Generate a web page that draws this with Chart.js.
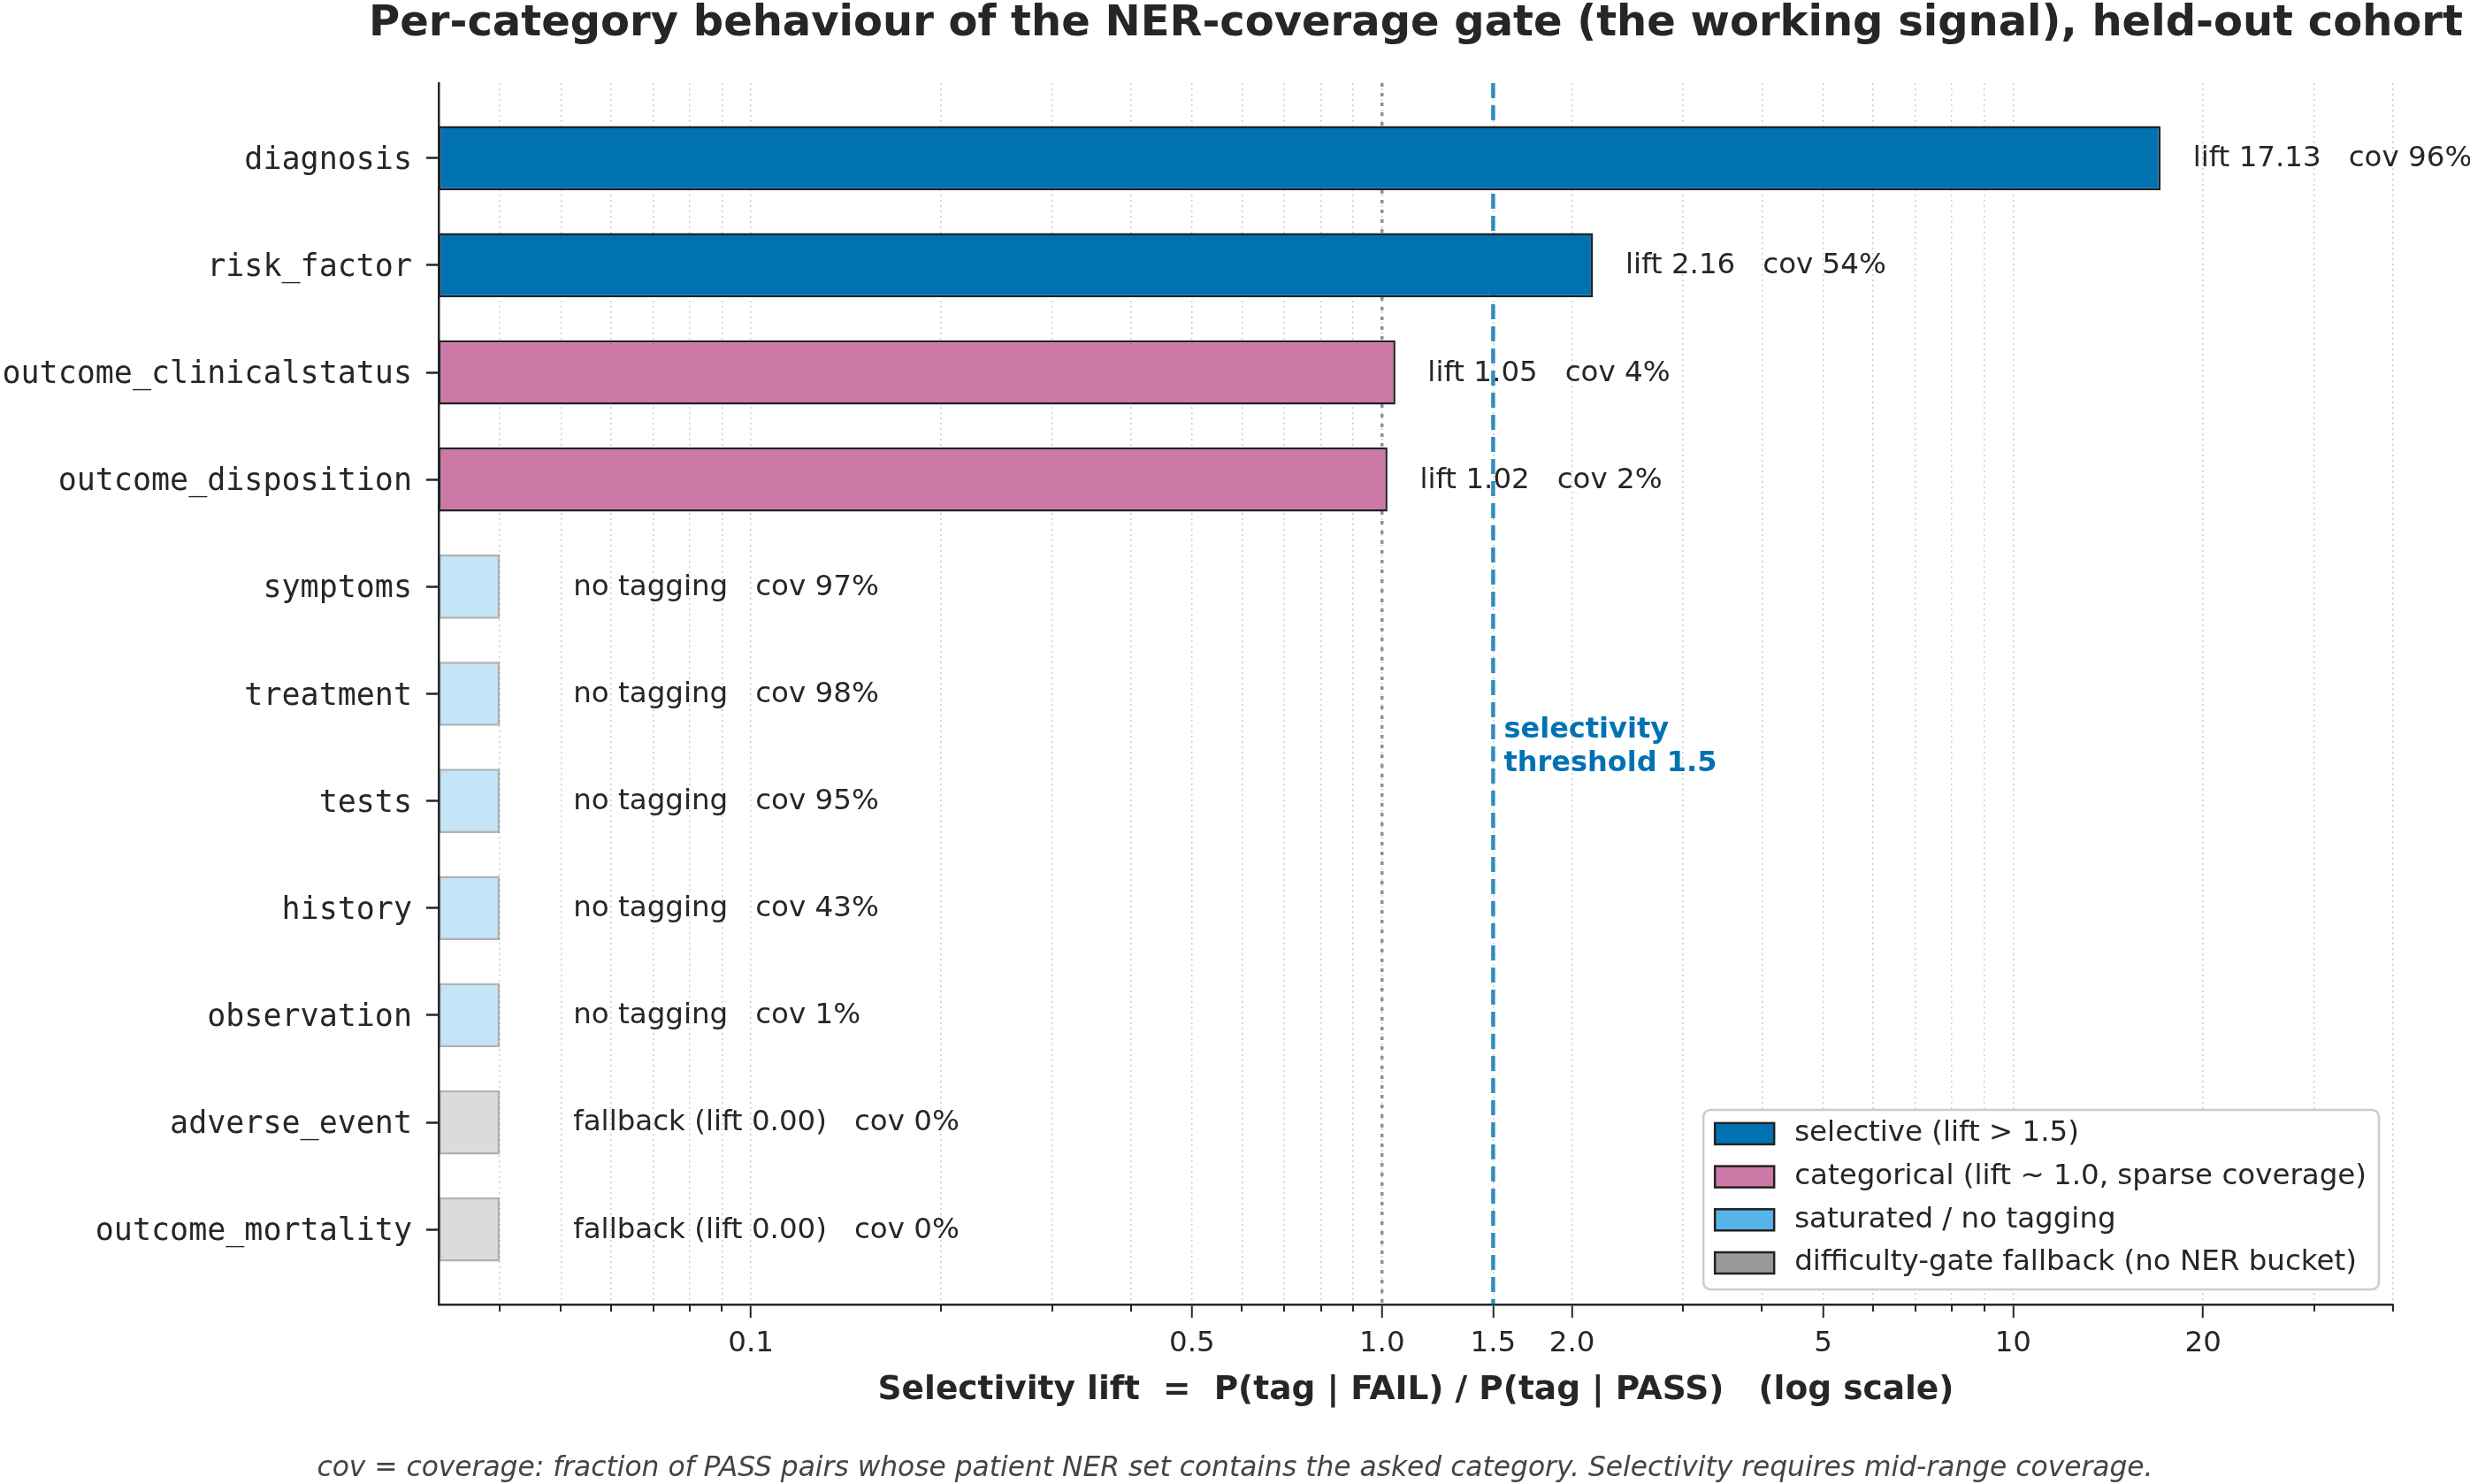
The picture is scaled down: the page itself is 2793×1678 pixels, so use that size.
<!DOCTYPE html>
<html>
<head>
<meta charset="utf-8">
<script src="https://cdn.jsdelivr.net/npm/chart.js@4.4.1/dist/chart.umd.min.js"></script>
<style>
  html, body { margin: 0; padding: 0; background: #fff; }
  #wrap { width: 2793px; height: 1678px; position: relative; }
</style>
</head>
<body>
<div id="wrap"><canvas id="myChart"></canvas></div>
<script>
// ---- data ----
const categories = ['diagnosis', 'risk_factor', 'outcome_clinicalstatus', 'outcome_disposition',
  'symptoms', 'treatment', 'tests', 'history', 'observation', 'adverse_event', 'outcome_mortality'];
const lifts = [17.13, 2.16, 1.05, 1.02, null, null, null, null, null, 0.00, 0.00];
const coverage = [96, 54, 4, 2, 97, 98, 95, 43, 1, 0, 0];
const groups = ['selective', 'selective', 'categorical', 'categorical',
  'saturated', 'saturated', 'saturated', 'saturated', 'saturated', 'fallback', 'fallback'];
const stubWidth = 0.04;      // bar drawn for rows without a usable lift
const noteStub = 0.0523;     // where the text sits for those rows

const groupKeys = ['selective', 'categorical', 'saturated', 'fallback'];
const groupLabels = ['selective (lift > 1.5)', 'categorical (lift ~ 1.0, sparse coverage)',
  'saturated / no tagging', 'difficulty-gate fallback (no NER bucket)'];
const groupColors = ['#0072B2', '#CC79A7', '#56B4E9', '#999999'];
const groupAlpha = [1, 1, 0.35, 0.35];

const xTicks = [0.1, 0.5, 1.0, 1.5, 2.0, 5, 10, 20];
const xTickLabels = ['0.1', '0.5', '1.0', '1.5', '2.0', '5', '10', '20'];
const xMin = 0.032, xMax = 40;
const threshold = 1.5;
const thresholdLabelY = 5.5;

const titleText = 'Per-category behaviour of the NER-coverage gate (the working signal), held-out cohort';
const xTitle = 'Selectivity lift  =  P(tag | FAIL) / P(tag | PASS)   (log scale)';
const footnote = 'cov = coverage: fraction of PASS pairs whose patient NER set contains the asked category. Selectivity requires mid-range coverage.';

const INK = '#262626';

function rgba(hex, a) {
  const n = parseInt(hex.slice(1), 16);
  return `rgba(${n >> 16},${(n >> 8) & 255},${n & 255},${a})`;
}

// all tick positions on the log axis (minor ones get grid + short tick only)
const allTicks = [];
[0.01, 0.1, 1, 10].forEach(d => {
  for (let m = 1; m <= 9; m++) {
    const v = Number((m * d).toPrecision(6));
    if (v >= xMin && v <= xMax) allTicks.push(v);
  }
});
allTicks.push(1.5);
allTicks.sort((a, b) => a - b);

const datasets = groupKeys.map((g, k) => ({
  label: groupLabels[k],
  data: categories.map((c, i) => groups[i] === g ? {x: lifts[i] > 0 ? lifts[i] : stubWidth, y: i} : null)
    .filter(d => d),
  backgroundColor: rgba(groupColors[k], groupAlpha[k]),
  borderColor: rgba('#222222', groupAlpha[k]),
  borderWidth: 2.5,
  borderSkipped: false,
  grouped: false,
  barPercentage: 0.6,
  categoryPercentage: 1.0
}));

function noteFor(i) {
  if (groups[i] === 'saturated') return `no tagging   cov ${coverage[i]}%`;
  if (groups[i] === 'fallback') return `fallback (lift ${lifts[i].toFixed(2)})   cov ${coverage[i]}%`;
  return `lift ${lifts[i].toFixed(2)}   cov ${coverage[i]}%`;
}

const overlays = {
  id: 'overlays',
  beforeDatasetsDraw(chart) {
    const {ctx, chartArea: a, scales: {x}} = chart;
    ctx.save();
    // reference line at lift = 1.0
    let px = x.getPixelForValue(1.0);
    ctx.strokeStyle = 'rgba(128,128,128,0.85)';
    ctx.lineWidth = 3.5;
    ctx.setLineDash([4, 7]);
    ctx.beginPath(); ctx.moveTo(px, a.top); ctx.lineTo(px, a.bottom); ctx.stroke();
    // selectivity threshold
    px = x.getPixelForValue(threshold);
    ctx.strokeStyle = 'rgba(0,114,178,0.8)';
    ctx.lineWidth = 4.5;
    ctx.setLineDash([17, 8]);
    ctx.beginPath(); ctx.moveTo(px, a.top); ctx.lineTo(px, a.bottom); ctx.stroke();
    ctx.restore();
  },
  afterDatasetsDraw(chart) {
    const {ctx, chartArea: a, scales: {x, y}} = chart;
    ctx.save();
    // minor tick marks
    ctx.strokeStyle = INK;
    ctx.lineWidth = 2;
    allTicks.filter(v => !xTicks.includes(v)).forEach(v => {
      const px = Math.round(x.getPixelForValue(v));
      ctx.beginPath(); ctx.moveTo(px, a.bottom); ctx.lineTo(px, a.bottom + 8); ctx.stroke();
    });

    // threshold label
    ctx.fillStyle = '#0072B2';
    ctx.font = 'bold 32px "DejaVu Sans"';
    ctx.textAlign = 'left';
    ctx.textBaseline = 'middle';
    const tx = x.getPixelForValue(threshold) + 12;
    const ty = y.getPixelForValue(thresholdLabelY);
    ctx.fillText('selectivity', tx, ty - 19);
    ctx.fillText('threshold 1.5', tx, ty + 19);

    // per-bar notes
    ctx.fillStyle = INK;
    ctx.font = '32.5px "DejaVu Sans"';
    categories.forEach((c, i) => {
      const anchor = lifts[i] > 0 ? lifts[i] * 1.125 : noteStub;
      ctx.fillText(noteFor(i), x.getPixelForValue(anchor), y.getPixelForValue(i) + 1);
    });

    // legend (lower right, framed)
    const rowH = 48.7, padL = 13, padR = 14, padT = 27, padB = 30, sw = 67, sh = 24, gap = 23;
    const textW = Math.max(...groupLabels.map(t => ctx.measureText(t).width));
    const w = padL + sw + gap + textW + padR;
    const h = padT + padB + rowH * (groupLabels.length - 1);
    const x0 = a.right - 16 - w, y0 = a.bottom - 17 - h;
    ctx.beginPath();
    ctx.roundRect(x0, y0, w, h, 8);
    ctx.fillStyle = 'rgba(255,255,255,0.85)';
    ctx.fill();
    ctx.strokeStyle = '#cccccc';
    ctx.lineWidth = 2.5;
    ctx.stroke();
    groupLabels.forEach((t, k) => {
      const cy = y0 + padT + k * rowH;
      ctx.fillStyle = groupColors[k];
      ctx.fillRect(x0 + padL, cy - sh / 2, sw, sh);
      ctx.strokeStyle = '#222222';
      ctx.lineWidth = 2.5;
      ctx.strokeRect(x0 + padL, cy - sh / 2, sw, sh);
      ctx.fillStyle = INK;
      ctx.fillText(t, x0 + padL + sw + gap, cy);
    });
    ctx.restore();
  },
  afterDraw(chart) {
    const {ctx, chartArea: a, width, height} = chart;
    ctx.save();
    ctx.textAlign = 'center';
    ctx.textBaseline = 'middle';
    ctx.fillStyle = INK;
    ctx.font = 'bold 48px "DejaVu Sans"';
    ctx.fillText(titleText, (a.left + a.right) / 2, 28);
    ctx.fillStyle = '#444444';
    ctx.font = 'italic 31.3px "DejaVu Sans"';
    ctx.fillText(footnote, width / 2, height - 17);
    ctx.restore();
  }
};

Chart.defaults.font.family = '"DejaVu Sans"';
Chart.defaults.color = INK;

new Chart(document.getElementById('myChart'), {
  type: 'bar',
  data: {datasets: datasets},
  plugins: [overlays],
  options: {
    indexAxis: 'y',
    responsive: true,
    maintainAspectRatio: false,
    devicePixelRatio: 1,
    animation: false,
    layout: {padding: {top: 94, right: 87, bottom: 0, left: 0}},
    plugins: {
      legend: {display: false},
      title: {display: false},
      tooltip: {enabled: false}
    },
    scales: {
      x: {
        type: 'logarithmic',
        position: 'bottom',
        min: xMin,
        max: xMax,
        bounds: 'data',
        offset: false,
        afterBuildTicks: (s) => { s.ticks = allTicks.map(v => ({value: v})); },
        afterFit: (s) => { s.height = 203; },
        ticks: {
          autoSkip: false,
          maxRotation: 0,
          padding: 10,
          color: INK,
          font: {size: 32.5},
          callback: (v) => {
            const k = xTicks.indexOf(v);
            return k >= 0 ? xTickLabels[k] : '';
          }
        },
        grid: {
          offset: false,
          color: 'rgba(0,0,0,0.2)',
          lineWidth: 1.5,
          drawTicks: true,
          tickLength: 15,
          tickWidth: 2,
          tickColor: (c) => (c.tick && xTicks.includes(c.tick.value)) ? INK : 'rgba(0,0,0,0)'
        },
        border: {display: true, color: INK, width: 2.5, dash: [2, 4]},
        title: {
          display: true,
          text: xTitle,
          color: INK,
          font: {size: 37.5, weight: 'bold'},
          padding: {top: 0, bottom: 83}
        }
      },
      y: {
        type: 'linear',
        reverse: true,
        min: -0.7,
        max: 10.7,
        bounds: 'data',
        offset: false,
        afterBuildTicks: (s) => { s.ticks = categories.map((c, i) => ({value: i})); },
        afterFit: (s) => { s.width = 496; },
        ticks: {
          autoSkip: false,
          padding: 16,
          labelOffset: 3,
          color: INK,
          font: {family: '"DejaVu Sans Mono"', size: 35},
          callback: (v) => categories[v]
        },
        grid: {
          offset: false,
          drawOnChartArea: false,
          drawTicks: true,
          tickLength: 14,
          tickWidth: 2.5,
          tickColor: INK
        },
        border: {display: true, color: INK, width: 2.5}
      }
    }
  }
});
</script>
</body>
</html>
